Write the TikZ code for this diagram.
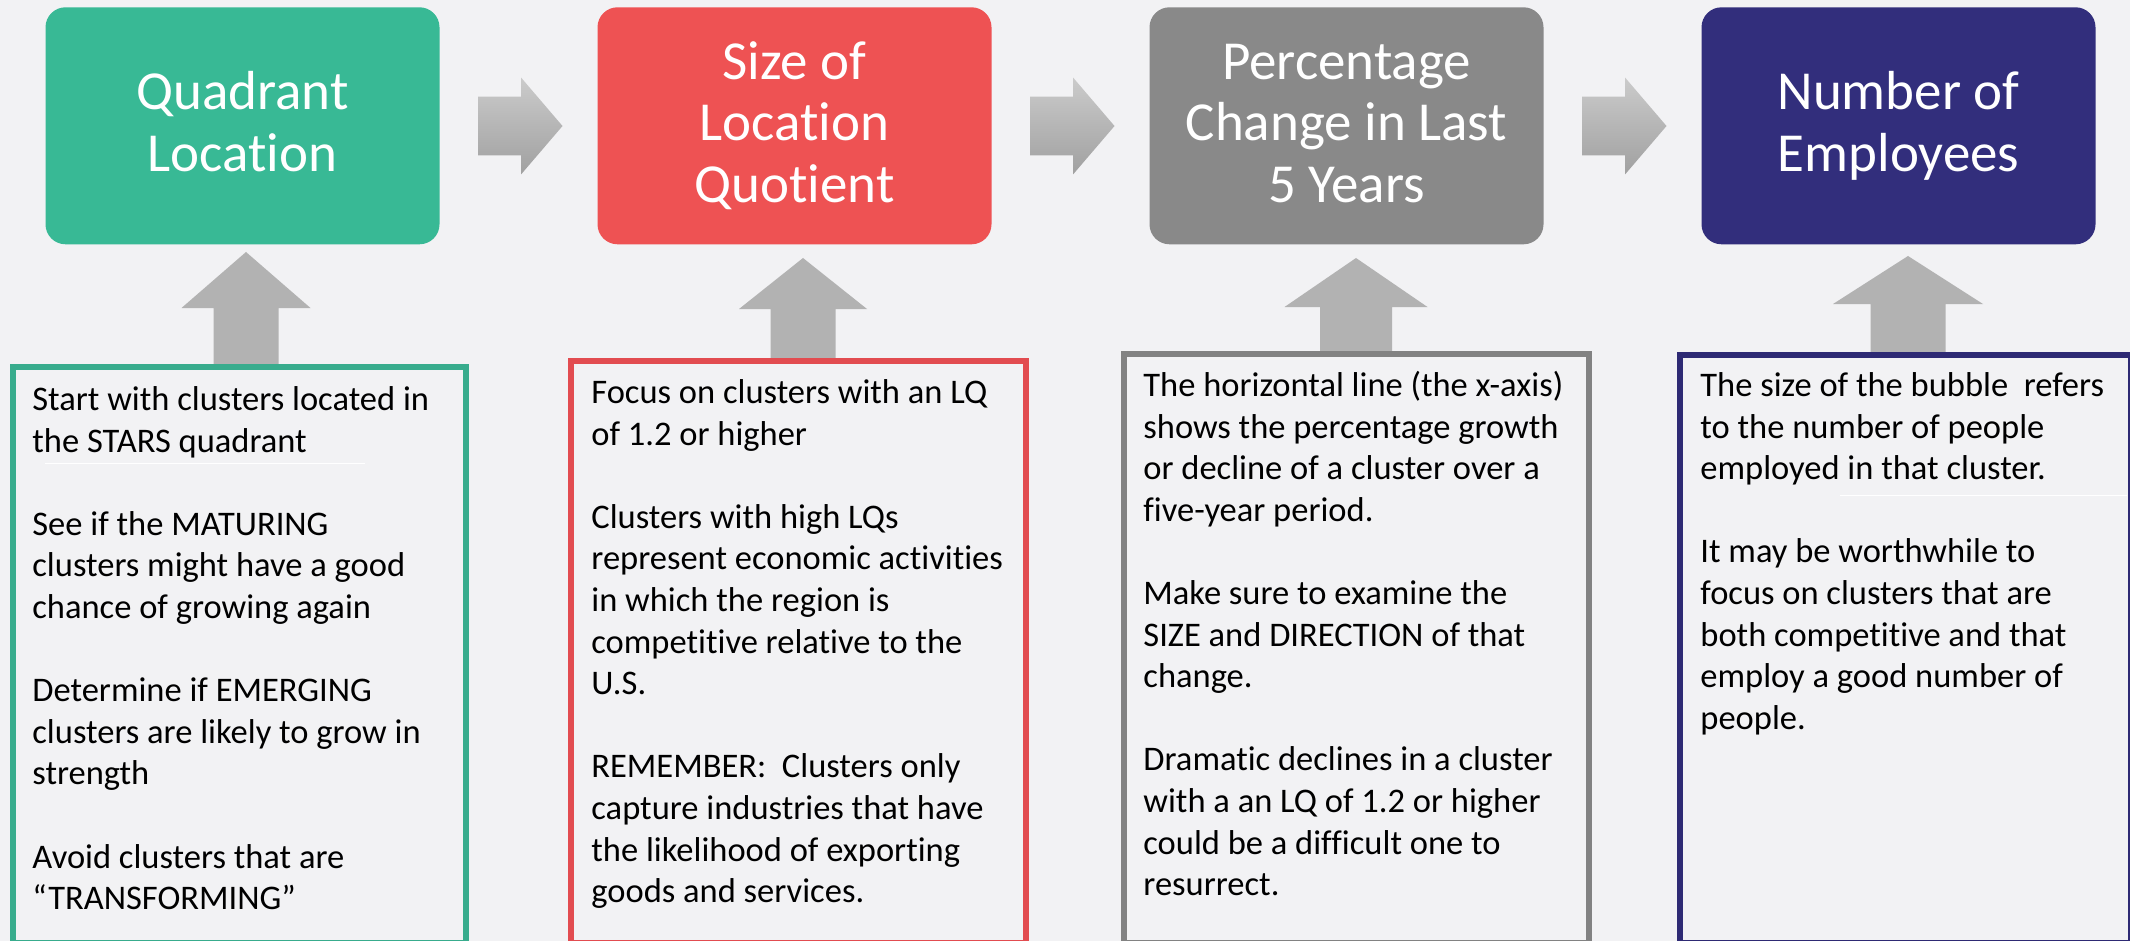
\documentclass[tikz,border=0pt]{standalone}
\usepackage{fontspec}
\setmainfont{Carlito}[Ligatures={NoCommon}]
\definecolor{bgc}{HTML}{F2F2F4}
\definecolor{cgreen}{HTML}{38B995}
\definecolor{cred}{HTML}{EE5253}
\definecolor{cgray}{HTML}{898989}
\definecolor{cnavy}{HTML}{322E7C}
\definecolor{bgreen}{HTML}{38AC8D}
\definecolor{bred}{HTML}{E24C50}
\definecolor{bgray}{HTML}{828282}
\definecolor{bnavy}{HTML}{2E2A74}
\definecolor{uparr}{HTML}{B2B2B2}
\definecolor{arrtop}{HTML}{CBCBCB}
\definecolor{arrbot}{HTML}{A0A0A0}
\newcommand\tstrut{\rule[-5pt]{0pt}{25pt}}
\newcommand\hgarrow[1]{\shade[top color=arrtop,bottom color=arrbot] (#1,96.7) -- (#1+43,96.7) -- (#1+43,77.5) -- (#1+84.5,126) -- (#1+43,174.5) -- (#1+43,155.3) -- (#1,155.3) -- cycle;}
\newcommand\upblock[6]{\fill[uparr] (#1-#5,#6) -- (#1-#5,#3) -- (#1-#4,#3) -- (#1,#2) -- (#1+#4,#3) -- (#1+#5,#3) -- (#1+#5,#6) -- cycle;}
\begin{document}
\begin{tikzpicture}[x=0.5pt,y=-0.5pt,
  titlebox/.style={rounded corners=10pt, minimum width=197pt, minimum height=118.5pt, inner sep=0pt, text=white, align=center, font=\fontsize{27.5pt}{30.8pt}\selectfont},
  frame/.style={draw, line width=3pt, anchor=north west, inner sep=0pt, outer sep=0pt},
  bodytext/.style={anchor=north west, inner sep=0pt, align=left, text=black, font=\fontsize{17.25pt}{20.8pt}\selectfont},
  faint/.style={white, line width=0.4pt}]
\useasboundingbox (0,0) rectangle (2130,941);
\fill[bgc] (0,0) rectangle (2130,941);

% title boxes
\node[titlebox, fill=cgreen] (q1) at (242.5,125.8) {\tstrut Quadrant\\Location\tstrut};
\node[titlebox, fill=cred] (q2) at (794.5,125.8) {\tstrut Size of\\Location\\Quotient\tstrut};
\node[titlebox, fill=cgray] (q3) at (1346.5,125.8) {\tstrut Percentage\\Change in Last\\5 Years\tstrut};
\node[titlebox, fill=cnavy] (q4) at (1898.5,125.8) {\tstrut Number of\\Employees\tstrut};

% horizontal block arrows
\hgarrow{478}
\hgarrow{1030}
\hgarrow{1582}

% upward block arrows: cx, tip, head base, head half width, shaft half width, bottom
\upblock{246}{252}{308}{64.5}{32.5}{369}
\upblock{803}{258}{309}{64}{32.5}{363}
\upblock{1356}{258}{307}{71.5}{36}{356}
\upblock{1908}{256}{304}{75}{37.5}{357}

% frames
\node[frame, draw=bgreen, minimum width=226.5pt, minimum height=287.75pt] (f1) at (13,367) {};
\node[frame, draw=bred, minimum width=227.5pt, minimum height=290.75pt] (f2) at (571,361) {};
\node[frame, draw=bgray, minimum width=232.5pt, minimum height=294.25pt] (f3) at (1124,354) {};
\node[frame, draw=bnavy, minimum width=225.5pt, minimum height=293.75pt] (f4) at (1680,355) {};

% body texts
\node[bodytext] (b1) at (32,380.9) {\strut Start with clusters located in\\the STARS quadrant\\[20.8pt]See if the MATURING\\clusters might have a good\\chance of growing again\\[20.8pt]Determine if EMERGING\\clusters are likely to grow in\\strength\\[20.8pt]Avoid clusters that are\\“TRANSFORMING”};
\node[bodytext] (b2) at (591,373.9) {\strut Focus on clusters with an LQ\\of 1.2 or higher\\[20.8pt]Clusters with high LQs\\represent economic activities\\in which the region is\\competitive relative to the\\U.S.\\[20.8pt]REMEMBER:\ \ Clusters only\\capture industries that have\\the likelihood of exporting\\goods and services.};
\node[bodytext] (b3) at (1143,366.9) {\strut The horizontal line (the x-axis)\\shows the percentage growth\\or decline of a cluster over a\\five-year period.\\[20.8pt]Make sure to examine the\\SIZE and DIRECTION of that\\change.\\[20.8pt]Dramatic declines in a cluster\\with a an LQ of 1.2 or higher\\could be a difficult one to\\resurrect.};
\node[bodytext] (b4) at (1700,366.9) {\strut The size of the bubble\ \ refers\\to the number of people\\employed in that cluster.\\[20.8pt]It may be worthwhile to\\focus on clusters that are\\both competitive and that\\employ a good number of\\people.};

% faint white rules
\draw[faint] (44.6,463) -- (365,463);
\draw[faint] (1840,495) -- (2127,495);
\end{tikzpicture}
\end{document}
